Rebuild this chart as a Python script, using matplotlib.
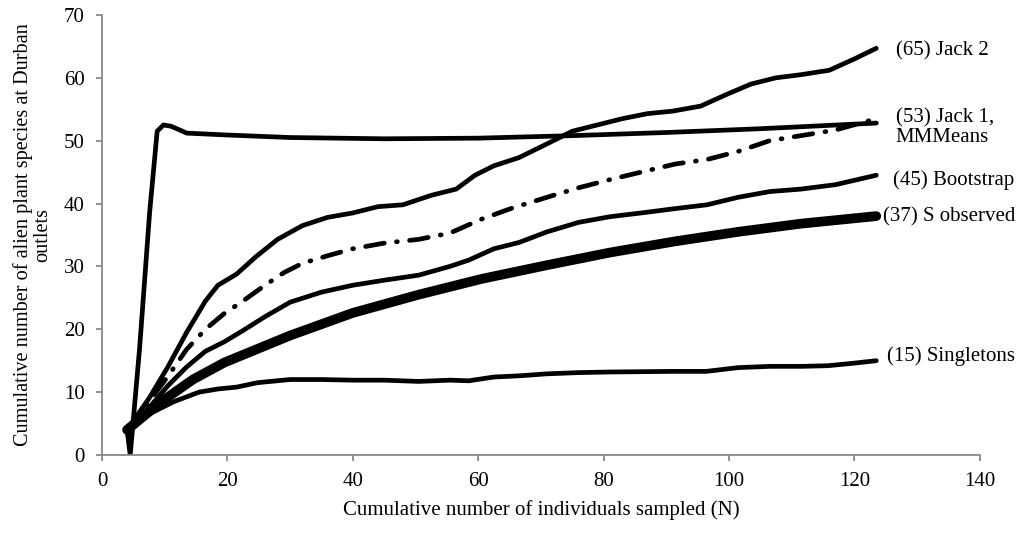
import matplotlib
matplotlib.use("Agg")
import matplotlib.pyplot as plt

plt.rcParams["font.family"] = ["Liberation Serif", "DejaVu Serif"]

# ---- data ----
jack2_x = [4, 7.5, 10.5, 13.5, 16.5, 18.5, 21.5, 24.5, 28, 32, 36, 40, 44, 48, 52.5, 56.5, 59.5,
           62.5, 66.5, 71, 75, 79, 83, 87, 91, 95.5, 99.5, 103.5, 107.5, 111.5, 116, 120, 123.5]
jack2_y = [4, 9, 14, 19.5, 24.5, 27, 28.8, 31.5, 34.3, 36.5, 37.8, 38.5, 39.5, 39.8, 41.3, 42.3, 44.5,
           46, 47.3, 49.5, 51.5, 52.5, 53.5, 54.3, 54.7, 55.5, 57.3, 59, 60, 60.5, 61.2, 63, 64.7]

jack1_x = [4, 7.5, 10.5, 13.5, 16.5, 19.5, 22.5, 26, 29, 32, 36, 40, 45, 50.5, 55.5, 60.5, 65.5,
           71, 76, 81, 86, 91.5, 96.5, 101.5, 106.5, 111.5, 117, 123.5]
jack1_y = [4, 8.5, 12.5, 16.8, 20, 22.5, 24.5, 27, 29, 30.5, 31.7, 32.8, 33.7, 34.3, 35.3, 37.5,
           39.3, 41, 42.5, 43.8, 45, 46.3, 47, 48.3, 50, 50.8, 51.7, 53.5]

mmm_x = [4, 4.5, 6, 7.6, 8.8, 9.8, 11, 12.4, 13.5, 20, 30, 45, 60, 75, 90, 105, 123.5]
mmm_y = [4, 0, 17, 38.6, 51.5, 52.5, 52.3, 51.7, 51.2, 50.9, 50.5, 50.3, 50.4, 50.8, 51.3, 51.9, 52.8]

boot_x = [4, 7.5, 10.5, 13.5, 16.5, 19.5, 22.5, 26, 30, 35, 40, 45, 50.5, 55.5, 58.5, 62.5, 66.5,
          71, 76, 81, 86, 91.5, 96.5, 101.5, 106.5, 111.5, 117, 123.5]
boot_y = [4, 7.5, 11, 14, 16.5, 18, 19.8, 22, 24.3, 25.9, 27, 27.8, 28.6, 30, 31, 32.8, 33.8,
          35.5, 37, 37.9, 38.5, 39.2, 39.8, 41, 41.9, 42.3, 43, 44.5]

sobs_x = [4, 9.5, 14.5, 19.5, 30, 40, 50.5, 60.5, 71, 81, 91.5, 101.5, 111.5, 123.5]
sobs_y = [4, 8.5, 12, 14.7, 19, 22.6, 25.5, 28, 30.2, 32.2, 34, 35.5, 36.8, 38]

single_x = [4, 7.5, 11.5, 15.5, 18.5, 21.5, 24.8, 30, 35, 40, 45, 50.5, 55.5, 58.5, 62.5, 66.7,
            70.8, 75.9, 81, 91.3, 96.4, 101.5, 106.6, 111.7, 115.8, 119.9, 123.5]
single_y = [4, 6.5, 8.5, 10, 10.5, 10.8, 11.5, 12, 12, 11.9, 11.9, 11.7, 11.9, 11.8, 12.4, 12.6,
            12.9, 13.1, 13.2, 13.3, 13.3, 13.9, 14.1, 14.1, 14.2, 14.6, 15]

labels = ["(65) Jack 2", "(53) Jack 1,\nMMMeans", "(45) Bootstrap", "(37) S observed", "(15) Singletons"]

fig = plt.figure(figsize=(10.23, 5.34), dpi=100)
ax = fig.add_axes([0.0997, 0.148, 0.858, 0.824])

kw = dict(color="black", solid_capstyle="round", solid_joinstyle="round")
ax.plot(jack2_x, jack2_y, lw=3.4, **kw)
ax.plot(mmm_x, mmm_y, lw=3.4, **kw)
ax.plot(boot_x, boot_y, lw=3.4, **kw)
ax.plot(single_x, single_y, lw=3.4, **kw)
ax.plot(sobs_x, sobs_y, lw=7, **kw)
ax.plot(jack1_x, jack1_y, lw=3.4, color="black", dashes=(4, 2.6, 0.2, 2.6),
        dash_capstyle="round", solid_joinstyle="round")

fs = 15
ax.text(126.6, 64.3, labels[0], fontsize=fs, va="center", clip_on=False)
ax.text(126.6, 52.1, labels[1], fontsize=fs, va="center", linespacing=1.0, clip_on=False)
ax.text(126.1, 43.8, labels[2], fontsize=fs, va="center", clip_on=False)
ax.text(124.5, 37.8, labels[3], fontsize=fs, va="center", clip_on=False)
ax.text(125.2, 15.7, labels[4], fontsize=fs, va="center", clip_on=False)

ax.set_xlim(0, 140)
ax.set_ylim(0, 70)
ax.set_xticks(range(0, 141, 20))
ax.set_yticks(range(0, 71, 10))
for s in ["top", "right"]:
    ax.spines[s].set_visible(False)
for s in ["left", "bottom"]:
    ax.spines[s].set_color("#888888")
    ax.spines[s].set_linewidth(1.3)
ax.tick_params(direction="out", length=4.5, width=1.3, color="#888888", labelsize=fs, pad=8)
ax.set_xlabel("Cumulative number of individuals sampled (N)", fontsize=fs, labelpad=6)
ax.set_ylabel("Cumulative number of alien plant species at Durban\noutlets", fontsize=14.6,
              labelpad=8, linespacing=1.05)

fig.savefig("out.png", dpi=100)
